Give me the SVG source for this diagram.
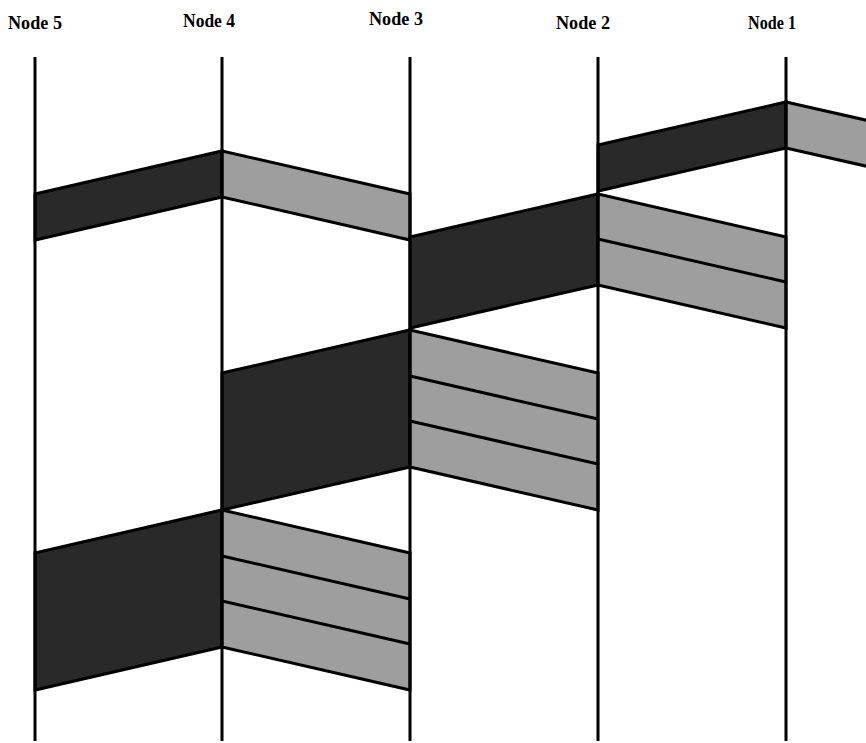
<svg xmlns="http://www.w3.org/2000/svg" width="866" height="743" viewBox="0 0 866 743">
<style>
.lbl{font-family:"Liberation Serif","DejaVu Serif",serif;font-size:19px;font-weight:bold;fill:#000;text-anchor:middle}
.life{stroke:#000;stroke-width:3;fill:none}
.dark{fill:#292929;stroke:#000;stroke-width:3;stroke-linejoin:miter}
.light{fill:#9e9e9e;stroke:#000;stroke-width:3;stroke-linejoin:miter}
.div{stroke:#000;stroke-width:3;fill:none}
</style>
<rect width="866" height="743" fill="#fff"/>
<g id="connectors">
  <polygon class="dark" points="35,194 222,151 222,197 35,240"/>
  <polygon class="light" points="222,151 410,194 410,240 222,197"/>
  <polygon class="dark" points="598,145 786,102 786,148 598,191"/>
  <polygon class="light" points="786,102 870,121 870,167 786,148"/>
  <polygon class="dark" points="410,237 598,194 598,285 410,328"/>
  <polygon class="light" points="598,194 786,237 786,328 598,285"/>
  <line class="div" x1="598" y1="239" x2="786" y2="282"/>
  <polygon class="dark" points="222,373 410,330 410,467 222,510"/>
  <polygon class="light" points="410,330 598,373 598,510 410,467"/>
  <line class="div" x1="410" y1="376" x2="598" y2="419"/>
  <line class="div" x1="410" y1="421" x2="598" y2="464"/>
  <polygon class="dark" points="35,553 222,510 222,647 35,690"/>
  <polygon class="light" points="222,510 410,553 410,690 222,647"/>
  <line class="div" x1="222" y1="556" x2="410" y2="599"/>
  <line class="div" x1="222" y1="601" x2="410" y2="644"/>
</g>
<g id="node5"><text class="lbl" x="35" y="29" textLength="54" lengthAdjust="spacingAndGlyphs">Node 5</text><line class="life" x1="35" y1="57" x2="35" y2="741"/></g>
<g id="node4"><text class="lbl" x="209" y="27" textLength="52" lengthAdjust="spacingAndGlyphs">Node 4</text><line class="life" x1="222" y1="57" x2="222" y2="741"/></g>
<g id="node3"><text class="lbl" x="396" y="25" textLength="54" lengthAdjust="spacingAndGlyphs">Node 3</text><line class="life" x1="410" y1="57" x2="410" y2="741"/></g>
<g id="node2"><text class="lbl" x="583" y="29" textLength="54" lengthAdjust="spacingAndGlyphs">Node 2</text><line class="life" x1="598" y1="57" x2="598" y2="741"/></g>
<g id="node1"><text class="lbl" x="772" y="29" textLength="48" lengthAdjust="spacingAndGlyphs">Node 1</text><line class="life" x1="786" y1="57" x2="786" y2="741"/></g>
</svg>
